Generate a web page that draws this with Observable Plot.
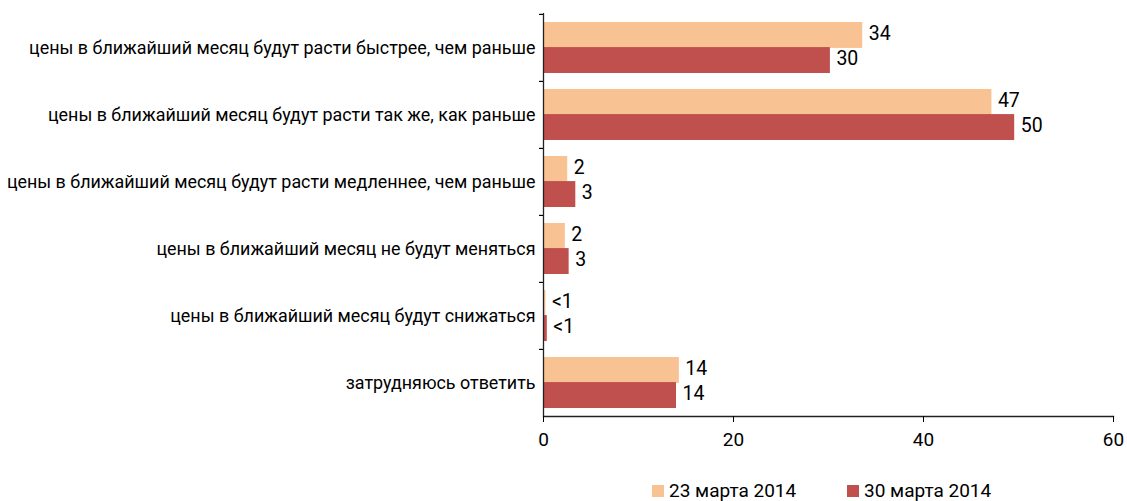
<!DOCTYPE html>
<html>
<head>
<meta charset="utf-8">
<script src="https://cdn.jsdelivr.net/npm/d3@7"></script>
<script src="https://cdn.jsdelivr.net/npm/@observablehq/plot@0.6"></script>
<style>
  body { margin: 0; background: #fff; font-family: Roboto, sans-serif; }
  #chart svg { display: block; }
  .legend { position: relative; height: 36px; font-family: Roboto, sans-serif; font-size: 19px; color: #000; }
  .legend span.item { position: absolute; top: 14px; display: flex; align-items: center; white-space: nowrap; }
  .legend i { display: inline-block; width: 12px; height: 12px; margin-right: 5px; }
</style>
</head>
<body>
<div id="chart"></div>
<script>
const categories = [
  "цены в ближайший месяц будут расти быстрее, чем раньше",
  "цены в ближайший месяц будут расти так же, как раньше",
  "цены в ближайший месяц будут расти медленнее, чем раньше",
  "цены в ближайший месяц не будут меняться",
  "цены в ближайший месяц будут снижаться",
  "затрудняюсь ответить"
];
const seriesNames = ["23 марта 2014", "30 марта 2014"];
const values23 = [33.6, 47.2, 2.55, 2.3, 0.25, 14.3];
const values30 = [30.2, 49.6, 3.4, 2.7, 0.4, 14.0];
const labels23 = ["34", "47", "2", "2", "<1", "14"];
const labels30 = ["30", "50", "3", "3", "<1", "14"];
const colors = ["#F9C293", "#C0504D"];
const xTicks = [0, 20, 40, 60];

const d23 = categories.map((c, i) => ({cat: c, value: values23[i], label: labels23[i]}));
const d30 = categories.map((c, i) => ({cat: c, value: values30[i], label: labels30[i]}));

const band = (416 - 13) / categories.length;

const chart = Plot.plot({
  width: 1127,
  height: 465,
  marginTop: 13,
  marginBottom: 49,
  marginLeft: 543,
  marginRight: 14,
  style: {fontFamily: "Roboto, sans-serif", color: "#000", background: "#fff"},
  x: {domain: [0, 60]},
  y: {domain: categories, padding: 0, label: null},
  marks: [
    Plot.barX(d23, {x: "value", y: "cat", fill: colors[0], insetTop: 8, insetBottom: band / 2 - 0.5}),
    Plot.barX(d30, {x: "value", y: "cat", fill: colors[1], insetTop: band / 2 - 0.5, insetBottom: 8}),
    Plot.text(d23, {x: "value", y: "cat", text: "label", textAnchor: "start", dx: 6, dy: -14.5, fontSize: 19.5}),
    Plot.text(d30, {x: "value", y: "cat", text: "label", textAnchor: "start", dx: 6, dy: 11, fontSize: 19.5}),
    Plot.axisY({tickSize: 0, tickPadding: 8, fontSize: 17.9, label: null}),
    Plot.axisY({tickSize: 4, tickFormat: () => "", dy: -band / 2, label: null, strokeWidth: 1.2}),
    Plot.ruleX([0], {stroke: "#222", strokeWidth: 1.3}),
    Plot.frame({anchor: "bottom", stroke: "#222", strokeWidth: 1.3}),
    Plot.axisX({ticks: xTicks, tickSize: 6, tickPadding: 10, fontSize: 19, label: null})
  ]
});
document.getElementById("chart").appendChild(chart);

const legend = document.createElement("div");
legend.className = "legend";
const lx = [652, 847];
seriesNames.forEach((s, i) => {
  const item = document.createElement("span");
  item.className = "item";
  item.style.left = lx[i] + "px";
  item.innerHTML = `<i style="background:${colors[i]}"></i>${s}`;
  legend.appendChild(item);
});
document.getElementById("chart").appendChild(legend);
</script>
</body>
</html>
